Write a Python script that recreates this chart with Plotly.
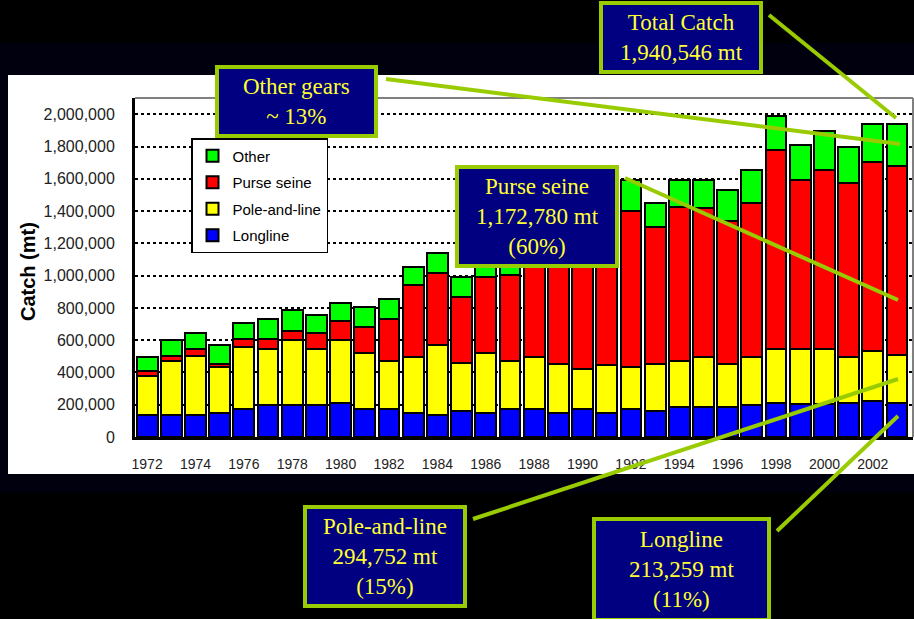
import plotly.graph_objects as go

# Catch by gear (mt)
years = list(range(1972, 2004))
longline = [134000, 134000, 134000, 147000, 172000, 197000, 197000, 197000,
            209000, 172000, 172000, 147000, 135000, 161000, 149000, 176000,
            176000, 149000, 176000, 149000, 176000, 159000, 186000, 186000,
            186000, 197000, 213000, 207000, 207000, 213000, 224000, 213259]
pole_and_line = [247000, 334000, 371000, 286000, 383000, 349000, 407000, 349000,
                 395000, 346000, 296000, 347000, 434000, 299000, 373000, 296000,
                 317000, 306000, 244000, 296000, 257000, 296000, 286000, 311000,
                 269000, 300000, 331000, 337000, 337000, 284000, 306000, 294752]
purse_seine = [27000, 37000, 39000, 22000, 52000, 61000, 52000, 98000,
               114000, 163000, 261000, 448000, 445000, 409000, 472000, 532000,
               617000, 725000, 810000, 955000, 970000, 847000, 956000, 921000,
               886000, 956000, 1232000, 1046000, 1110000, 1080000, 1172000, 1172780]
other = [85000, 99000, 100000, 114000, 99000, 124000, 133000, 112000,
         114000, 124000, 126000, 113000, 127000, 123000, 115000, 115000,
         120000, 120000, 120000, 130000, 191000, 151000, 162000, 172000,
         187000, 199000, 211000, 221000, 244000, 220000, 236000, 259755]

# callout boxes: text, box (px), line start and line end (px)
callouts = [
    ("Total Catch<br>1,940,546 mt", (599, 1, 763, 74), (769, 15), (896, 118)),
    ("Other gears<br>~ 13%", (215, 65, 378, 138), (386, 79), (900, 144)),
    ("Purse seine<br>1,172,780 mt<br>(60%)", (455, 165, 619, 268), (625, 178), (898, 300)),
    ("Pole-and-line<br>294,752 mt<br>(15%)", (303, 505, 467, 608), (473, 519), (898, 379)),
    ("Longline<br>213,259 mt<br>(11%)", (592, 517, 771, 622), (777, 531), (898, 416)),
]

# plot area in pixels
L, R, T, B = 135, 913, 98, 437


def px(x):
    return (x - L) / (R - L)


def py(y):
    return (B - y) / (B - T)


fig = go.Figure()
for rank, (name, vals, color) in enumerate([('Longline', longline, '#0000ff'),
                                            ('Pole-and-line', pole_and_line, '#ffff00'),
                                            ('Purse seine', purse_seine, '#ff0000'),
                                            ('Other', other, '#00ff00')]):
    fig.add_trace(go.Bar(
        x=years,
        y=vals,
        name=name,
        legendgroup=name,
        legendrank=10 - rank,
        marker=dict(color=color, line=dict(color='black', width=2)),
    ))

shapes = [
    # dark band and white panel behind the chart
    dict(type='rect', xref='paper', yref='paper', layer='below',
         x0=px(0), x1=px(914), y0=py(43), y1=py(492),
         fillcolor='#00000f', line_width=0),
    dict(type='rect', xref='paper', yref='paper', layer='below',
         x0=px(8), x1=px(914), y0=py(75), y1=py(474),
         fillcolor='white', line_width=0),
    # grey top / right frame
    dict(type='line', xref='paper', yref='paper', x0=0, x1=1, y0=1, y1=1,
         line=dict(color='#808080', width=2)),
    dict(type='line', xref='paper', yref='paper', x0=1, x1=1, y0=0, y1=1,
         line=dict(color='#808080', width=2)),
]
annotations = []
for text, (x0, y0, x1, y1), (lx0, ly0), (lx1, ly1) in callouts:
    shapes.append(dict(type='line', xref='paper', yref='paper',
                       x0=px(lx0), y0=py(ly0), x1=px(lx1), y1=py(ly1),
                       line=dict(color='#99cc00', width=4)))
    shapes.append(dict(type='rect', xref='paper', yref='paper',
                       x0=px(x0 + 2), y0=py(y0 + 2), x1=px(x1 - 2), y1=py(y1 - 2),
                       fillcolor='#000080', line=dict(color='#99cc00', width=4)))
    annotations.append(dict(xref='paper', yref='paper',
                            x=px((x0 + x1) / 2), y=py((y0 + y1) / 2),
                            xanchor='center', yanchor='middle',
                            text=text, showarrow=False,
                            font=dict(family='Liberation Serif', size=23, color='#ffff33')))

annotations.append(dict(xref='paper', yref='paper', x=px(28), y=py(272),
                        xanchor='center', yanchor='middle',
                        text='<b>Catch (mt)</b>', textangle=-90, showarrow=False,
                        font=dict(family='Liberation Sans', size=20, color='black')))

fig.update_layout(
    barmode='stack',
    bargap=0.14,
    autosize=False,
    width=914,
    height=619,
    margin=dict(l=L, r=914 - R, t=T, b=619 - B),
    paper_bgcolor='black',
    plot_bgcolor='white',
    font=dict(family='Liberation Sans', size=14, color='#222222'),
    shapes=shapes,
    annotations=annotations,
    legend=dict(
        x=px(191), y=py(138), xanchor='left', yanchor='top',
        bgcolor='white', bordercolor='black', borderwidth=1.5,
        font=dict(size=15, color='black'),
        itemwidth=30,
        tracegroupgap=4,
    ),
)
fig.update_xaxes(
    range=[1971.5, 2003.66],
    tickmode='linear', tick0=1972, dtick=2,
    ticks='outside', ticklen=12, tickcolor='rgba(0,0,0,0)',
    tickfont=dict(size=14),
    showline=True, linecolor='black', linewidth=3,
    showgrid=False,
)
fig.update_yaxes(
    range=[0, 2101000],
    tickmode='linear', tick0=0, dtick=200000,
    tickformat=',d',
    ticks='outside', ticklen=14, tickcolor='rgba(0,0,0,0)',
    tickfont=dict(size=16),
    showline=True, linecolor='black', linewidth=3,
    showgrid=True, gridcolor='black', griddash='dot', gridwidth=1.5,
    zeroline=False,
)

fig.write_html("out.html", config={'displayModeBar': False},
               post_script="document.body.style.margin='0';")
